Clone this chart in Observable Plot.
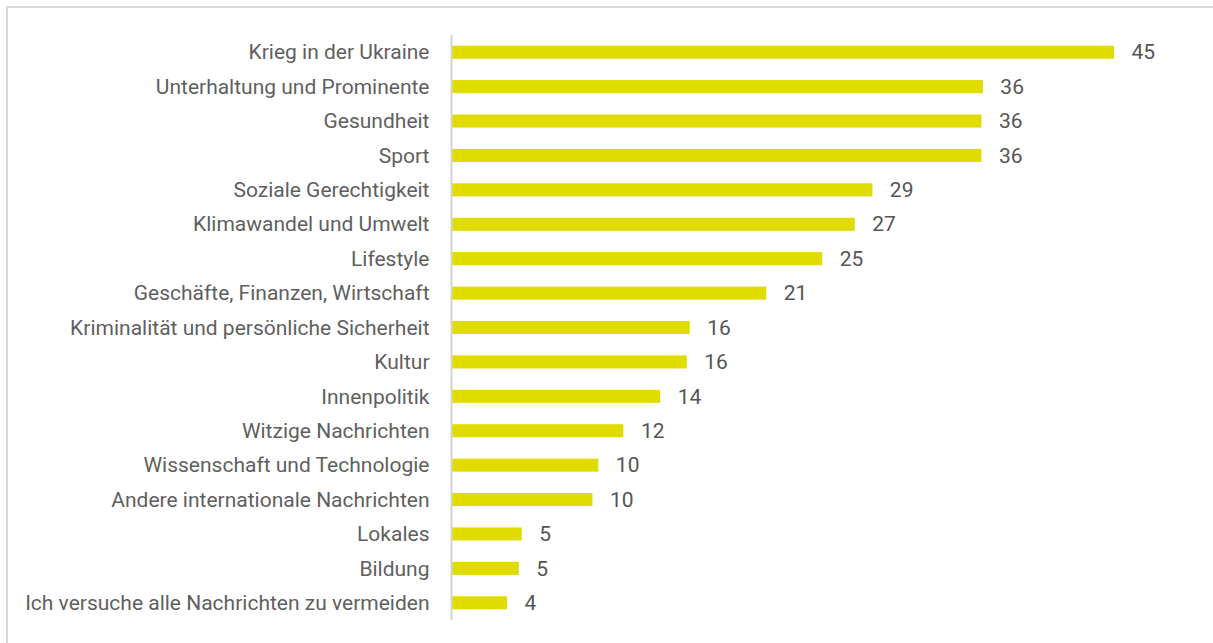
<!DOCTYPE html>
<html>
<head>
<meta charset="utf-8">
<script src="https://cdn.jsdelivr.net/npm/d3@7"></script>
<script src="https://cdn.jsdelivr.net/npm/@observablehq/plot@0.6"></script>
<style>
  html, body { margin: 0; padding: 0; background: white; }
  #wrap { position: relative; width: 1213px; height: 643px; overflow: hidden; }
  #frame { position: absolute; left: 6px; top: 6px; width: 1300px; height: 700px; border: 2px solid #dadada; pointer-events: none; z-index: 2; box-sizing: border-box; }
</style>
</head>
<body>
<div id="wrap"><div id="frame"></div><div id="chart"></div></div>
<script>
const categories = [
  "Krieg in der Ukraine",
  "Unterhaltung und Prominente",
  "Gesundheit",
  "Sport",
  "Soziale Gerechtigkeit",
  "Klimawandel und Umwelt",
  "Lifestyle",
  "Geschäfte, Finanzen, Wirtschaft",
  "Kriminalität und persönliche Sicherheit",
  "Kultur",
  "Innenpolitik",
  "Witzige Nachrichten",
  "Wissenschaft und Technologie",
  "Andere internationale Nachrichten",
  "Lokales",
  "Bildung",
  "Ich versuche alle Nachrichten zu vermeiden"
];
const values = [45.0, 36.1, 36.0, 36.0, 28.6, 27.4, 25.2, 21.4, 16.2, 16.0, 14.2, 11.7, 10.0, 9.6, 4.8, 4.6, 3.8];
const valueLabels = ["45", "36", "36", "36", "29", "27", "25", "21", "16", "16", "14", "12", "10", "10", "5", "5", "4"];

const data = categories.map((c, i) => ({category: c, value: values[i], label: valueLabels[i]}));

const chart = Plot.plot({
  width: 1213,
  height: 643,
  marginLeft: 451,
  marginRight: 99,
  marginTop: 35,
  marginBottom: 23,
  style: {fontFamily: "Roboto, 'Liberation Sans', sans-serif", background: "transparent"},
  x: {domain: [0, 45], axis: null},
  y: {domain: categories, paddingInner: 0.62, paddingOuter: 0.31, round: false, label: null},
  marks: [
    Plot.barX(data, {y: "category", x: "value", fill: "#e0dc00"}),
    Plot.ruleX([0], {stroke: "#d4d4d4", strokeWidth: 2}),
    Plot.axisY({tickSize: 0, tickPadding: 22, fontSize: 21, color: "#5f5f5f", label: null}),
    Plot.text(data, {y: "category", x: "value", text: "label", dx: 17, textAnchor: "start", fontSize: 21, fill: "#555555"})
  ]
});
document.getElementById("chart").appendChild(chart);
</script>
</body>
</html>
